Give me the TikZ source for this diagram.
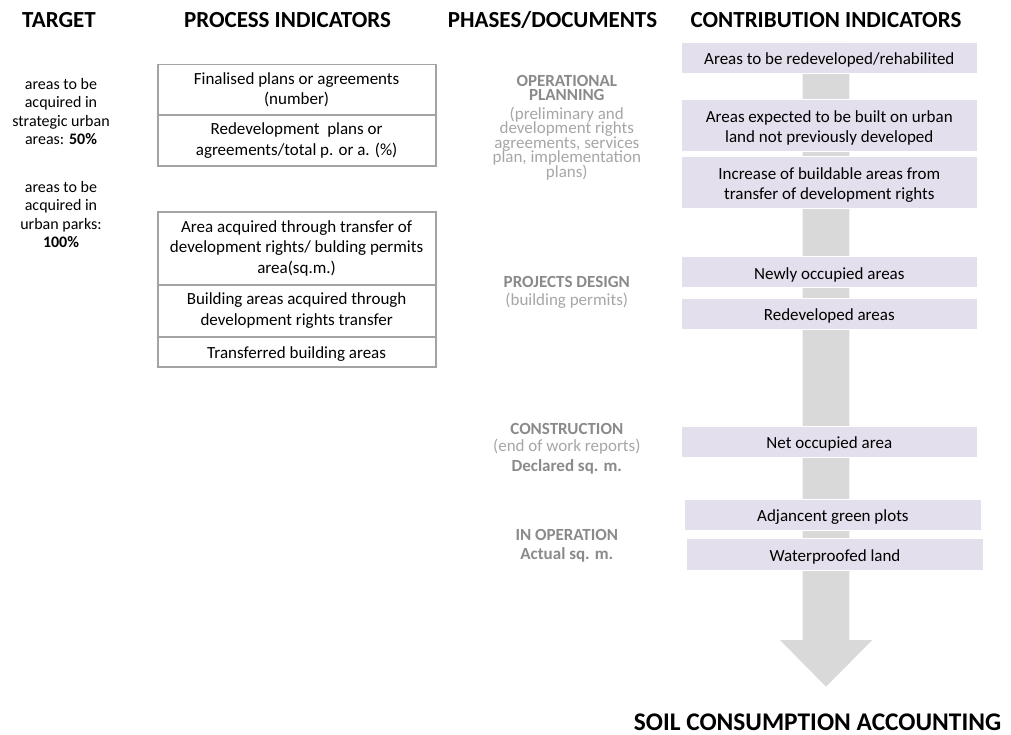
\documentclass[tikz,border=0pt]{standalone}
\usepackage{fontspec}
\setmainfont{Carlito}
\definecolor{lav}{HTML}{E4DFEC}
\definecolor{arrowgray}{HTML}{D9D9D9}
\definecolor{boxline}{HTML}{A3A3A3}
\definecolor{phasedark}{HTML}{8A8A8A}
\definecolor{phaselight}{HTML}{A6A6A6}
\newcommand\tightlines{\lineskiplimit=-30pt\relax}
\newcommand\padtop{\rule{0pt}{17pt}}
\tikzset{
  header/.style={font=\fontsize{23}{26}\selectfont\bfseries, inner sep=0pt},
  procbox/.style={draw=boxline, line width=1.8pt, fill=white, minimum width=278pt, inner sep=0pt, align=center, font=\fontsize{17}{20.6}\selectfont},
  contrib/.style={fill=lav, draw=white, line width=0.6pt, inner sep=0pt, align=center, font=\fontsize{17}{20.6}\selectfont},
  targettext/.style={align=center, inner sep=0pt, font=\fontsize{16}{18.5}\selectfont},
  phasehead/.style={align=center, inner sep=0pt, text=phasedark, font={\fontsize{17}{13.6}\selectfont\bfseries\tightlines}},
  phasesub/.style={align=center, inner sep=0pt, text=phaselight, font={\fontsize{17}{14.5}\selectfont\tightlines}},
}
\begin{document}
\begin{tikzpicture}[x=1pt, y=-1pt]
\useasboundingbox (0,0) rectangle (1011,735);
% headers
\node[header] (hT) at (59,20) {TARGET};
\node[header] (hP) at (287.5,20) {PROCESS INDICATORS};
\node[header] (hD) at (552.5,20) {PHASES/DOCUMENTS};
\node[header] (hC) at (826,20) {CONTRIBUTION INDICATORS};
% arrow
\fill[arrowgray] (802.7,42) -- (849.3,42) -- (849.3,640) -- (872.3,640) -- (826,686.7) -- (780,640) -- (802.7,640) -- cycle;
% target
\node[targettext] (t1) at (61,111.5) {areas to be\\acquired in\\strategic urban\\areas: \textbf{50\%}};
\node[targettext] (t2) at (61,214.5) {areas to be\\acquired in\\urban parks:\\\textbf{100\%}};
% process indicators
\node[procbox, minimum height=50.5pt] (p1) at (296.6,89.75) {Finalised plans or agreements\\(number)};
\node[procbox, minimum height=51pt] (p2) at (296.6,140.5) {Redevelopment\ \ plans or\\agreements/total p. or a. (\%)};
\node[procbox, minimum height=73.3pt] (p3) at (296.6,248.35) {Area acquired through transfer of\\development rights/ bulding permits\\area(sq.m.)};
\node[procbox, minimum height=51.7pt] (p4) at (296.6,310.85) {Building areas acquired through\\development rights transfer};
\node[procbox, minimum height=30.3pt] (p5) at (296.6,351.85) {\padtop Transferred building areas};
% phases
\node[phasehead] (ph1) at (566.8,88) {OPERATIONAL\\PLANNING};
\node[phasesub] (ph1s) at (566.8,143.5) {(preliminary and\\development rights\\agreements, services\\plan, implementation\\plans)};
\node[phasehead] (ph2) at (566.8,282) {PROJECTS DESIGN};
\node[phasesub] (ph2s) at (566.8,301) {(building permits)};
\node[phasehead] (ph3) at (566.8,428.5) {CONSTRUCTION};
\node[phasesub] (ph3s) at (566.8,447) {(end of work reports)};
\node[phasehead] (ph3b) at (566.8,467) {Declared sq. m.};
\node[phasehead] (ph4) at (566.8,535) {IN OPERATION};
\node[phasehead] (ph4b) at (566.8,555) {Actual sq. m.};
% contribution indicators
\node[contrib, minimum width=296.7pt, minimum height=31pt] (c1) at (829.3,57.8) {\padtop Areas to be redeveloped/rehabilited};
\node[contrib, minimum width=296.7pt, minimum height=52.4pt] (c2) at (829.3,125.5) {\padtop Areas expected to be built on urban\\land not previously developed};
\node[contrib, minimum width=296.7pt, minimum height=51.6pt] (c3) at (829.3,182.5) {\padtop Increase of buildable areas from\\transfer of development rights};
\node[contrib, minimum width=296.7pt, minimum height=31pt] (c4) at (829.3,272.2) {\padtop Newly occupied areas};
\node[contrib, minimum width=296.7pt, minimum height=31pt] (c5) at (829.3,313.8) {\padtop Redeveloped areas};
\node[contrib, minimum width=296.7pt, minimum height=31.7pt] (c6) at (829.3,441.85) {\padtop Net occupied area};
\node[contrib, minimum width=297.7pt, minimum height=31pt] (c7) at (832.9,514.5) {\padtop Adjancent green plots};
\node[contrib, minimum width=296.6pt, minimum height=31.7pt] (c8) at (835,554.15) {\padtop Waterproofed land};
% bottom
\node[inner sep=0pt, font=\fontsize{25.4}{29}\selectfont\bfseries] (soil) at (817.5,722) {SOIL CONSUMPTION ACCOUNTING};
\end{tikzpicture}
\end{document}
